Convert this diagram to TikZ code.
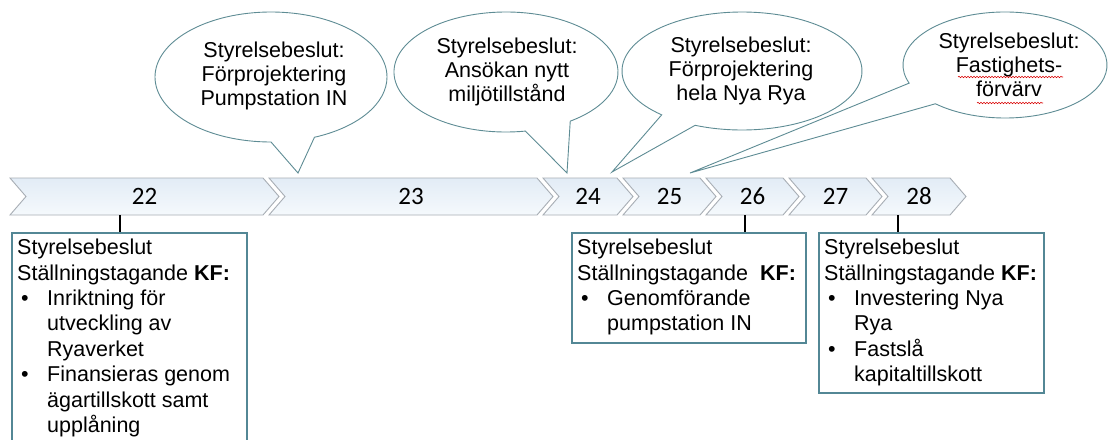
\documentclass[tikz,border=0pt]{standalone}
\usepackage{fontspec}
\setmainfont{Liberation Sans}
\newfontfamily\carlitofont{Carlito}
\usetikzlibrary{decorations.pathmorphing}
\definecolor{chevtop}{HTML}{E2ECF6}
\definecolor{chevbot}{HTML}{F5F9FC}
\definecolor{chevline}{HTML}{A8AEB5}
\definecolor{boxline}{HTML}{538795}
\definecolor{bubline}{HTML}{5E8C94}
\newcommand\myitem{\hspace*{4pt}\makebox[26pt][l]{•}}
\newcommand\mycont{\hspace*{30pt}}
\begin{document}
\begin{tikzpicture}[x=1pt,y=-1pt,
  chev/.style={top color=chevtop,bottom color=chevbot,draw=chevline,line width=0.9pt},
  num/.style={font=\carlitofont\fontsize{25}{28}\selectfont,inner sep=0pt},
  bub/.style={draw=bubline,fill=white,line width=0.9pt,line join=miter},
  bubtext/.style={align=center,inner sep=0pt,font=\fontsize{21.5}{24}\selectfont},
  boxframe/.style={draw=boxline,line width=2pt,fill=white,inner sep=0pt,anchor=north west},
  boxtext/.style={align=left,anchor=north west,inner xsep=6pt,inner ysep=7pt,font=\fontsize{21.5}{25.4}\selectfont},
  conn/.style={draw=black,line width=1.5pt},
  squiggle/.style={draw=red!85!black,line width=0.6pt,decorate,decoration={snake,amplitude=0.7pt,segment length=3pt}}]
\clip (0,0) rectangle (1108,439);
\fill[white] (0,0) rectangle (1108,439);

% chevrons
\foreach \L/\R/\n in {10/263/22,269/537/23,543/617/24,623/700/25,706/783/26,789/866/27,872/950/28}{
  \shade[chev] (\L,178) -- (\R,178) -- (\R+16,196.5) -- (\R,215) -- (\L,215) -- (\L+16,196.5) -- cycle;
  \node[num] (c\n) at ({(\L+\R+16)/2},196.5) {\n};
}

% callout bubbles
\draw[bub] (271,77) ++({116*cos(90)},{65*sin(90)}) arc[start angle=90,end angle=428,x radius=116,y radius=65] -- (298,173) -- cycle;
\draw[bub] (506,72) ++({112*cos(80)},{60*sin(80)}) arc[start angle=80,end angle=415,x radius=112,y radius=60] -- (567,173) -- cycle;
\draw[bub] (742,71) ++({120*cos(132)},{59*sin(132)}) arc[start angle=132,end angle=473,x radius=120,y radius=59] -- (612,172) -- cycle;
\draw[bub] (1005,65) ++({102*cos(160)},{53*sin(160)}) arc[start angle=160,end angle=493,x radius=102,y radius=53] -- (690,173) -- cycle;

\node[bubtext] (t1) at (274,76) {Styrelsebeslut:\\Förprojektering\\Pumpstation IN};
\node[bubtext] (t2) at (507,72) {Styrelsebeslut:\\Ansökan nytt\\miljötillstånd};
\node[bubtext] (t3) at (741,71) {Styrelsebeslut:\\Förprojektering\\hela Nya Rya};
\node[bubtext] (t4) at (1009,65) {Styrelsebeslut:\\Fastighets-\\förvärv};
\coordinate (s1a) at (958,77);
\coordinate (s1b) at (1063,77);
\coordinate (s2a) at (977,103);
\coordinate (s2b) at (1043,103);
\draw[squiggle] (s1a) -- (s1b);
\draw[squiggle] (s2a) -- (s2b);

% boxes
\node[boxframe,minimum width=235pt,minimum height=240pt] (b22) at (11,232) {};
\node[boxframe,minimum width=234pt,minimum height=110pt] (b26) at (571,232) {};
\node[boxframe,minimum width=225pt,minimum height=160pt] (b28) at (818,232) {};

\node[boxtext] (x22) at (b22.north west) {Styrelsebeslut\\Ställningstagande \textbf{KF:}\\
  \myitem Inriktning för\\\mycont utveckling av\\\mycont Ryaverket\\
  \myitem Finansieras genom\\\mycont ägartillskott samt\\\mycont upplåning};
\node[boxtext] (x26) at (b26.north west) {Styrelsebeslut\\Ställningstagande\ \ \textbf{KF:}\\
  \myitem Genomförande\\\mycont pumpstation IN};
\node[boxtext] (x28) at (b28.north west) {Styrelsebeslut\\Ställningstagande \textbf{KF:}\\
  \myitem Investering Nya\\\mycont Rya\\
  \myitem Fastslå\\\mycont kapitaltillskott};

% connectors
\coordinate (k22) at (120,215);
\coordinate (k26) at (745,215);
\coordinate (k28) at (898,215);
\draw[conn] (k22) -- (k22 |- b22.north);
\draw[conn] (k26) -- (k26 |- b26.north);
\draw[conn] (k28) -- (k28 |- b28.north);
\end{tikzpicture}
\end{document}
